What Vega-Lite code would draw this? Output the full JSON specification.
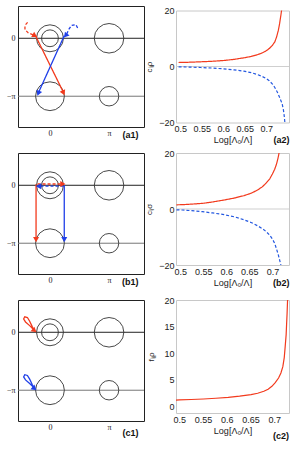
{
  "$schema": "https://vega.github.io/schema/vega-lite/v6.json",
  "padding": {"left": 5, "top": 5, "right": 5, "bottom": 5},
  "bounds": "flush",
  "center": true,
  "columns": 2,
  "spacing": {"row": 26, "column": 32},
  "resolve": {"scale": {"color": "independent", "strokeDash": "independent", "size": "independent", "angle": "independent"}},
  "config": {
    "font": "Liberation Sans",
    "axis": {"grid": false, "labelColor": "#222", "titleColor": "#222", "titleFontWeight": "normal"},
    "title": {"fontSize": 9, "fontWeight": "bold", "color": "#111", "font": "Liberation Sans"}
  },
  "datasets": {
    "hlines": [{"y": 0, "g": "zero"}, {"y": -3.1416, "g": "pi"}],
    "circles": [
      {"x": 0, "y": 0, "r": 0.72},
      {"x": 0, "y": 0, "r": 0.45},
      {"x": 3.1416, "y": 0, "r": 0.79},
      {"x": 0, "y": -3.1416, "r": 0.77},
      {"x": 3.1416, "y": -3.1416, "r": 0.52}
    ],
    "paths": [
      {"p": "a1", "id": "a1rd", "c": "r", "k": "d", "i": 1, "x": -1.19, "y": 0.86},
      {"p": "a1", "id": "a1rd", "c": "r", "k": "d", "i": 2, "x": -1.33, "y": 0.7},
      {"p": "a1", "id": "a1rd", "c": "r", "k": "d", "i": 3, "x": -1.33, "y": 0.47},
      {"p": "a1", "id": "a1rd", "c": "r", "k": "d", "i": 4, "x": -1.15, "y": 0.29},
      {"p": "a1", "id": "a1rd", "c": "r", "k": "d", "i": 5, "x": -0.9, "y": 0.19},
      {"p": "a1", "id": "a1rs", "c": "r", "k": "s", "i": 1, "x": -0.76, "y": 0.12},
      {"p": "a1", "id": "a1rs", "c": "r", "k": "s", "i": 2, "x": 0.7, "y": -2.9},
      {"p": "a1", "id": "a1bd", "c": "b", "k": "d", "i": 1, "x": 1.47, "y": 0.56},
      {"p": "a1", "id": "a1bd", "c": "b", "k": "d", "i": 2, "x": 1.38, "y": 0.74},
      {"p": "a1", "id": "a1bd", "c": "b", "k": "d", "i": 3, "x": 1.15, "y": 0.7},
      {"p": "a1", "id": "a1bd", "c": "b", "k": "d", "i": 4, "x": 0.99, "y": 0.47},
      {"p": "a1", "id": "a1bd", "c": "b", "k": "d", "i": 5, "x": 0.9, "y": 0.24},
      {"p": "a1", "id": "a1bs", "c": "b", "k": "s", "i": 1, "x": 0.76, "y": 0.14},
      {"p": "a1", "id": "a1bs", "c": "b", "k": "s", "i": 2, "x": -0.6, "y": -2.92},
      {"p": "b1", "id": "b1rd", "c": "r", "k": "d", "i": 1, "x": -0.66, "y": 0.07},
      {"p": "b1", "id": "b1rd", "c": "r", "k": "d", "i": 2, "x": 0.6, "y": 0.07},
      {"p": "b1", "id": "b1bd", "c": "b", "k": "d", "i": 1, "x": 0.72, "y": -0.05},
      {"p": "b1", "id": "b1bd", "c": "b", "k": "d", "i": 2, "x": -0.5, "y": -0.05},
      {"p": "b1", "id": "b1rs", "c": "r", "k": "s", "i": 1, "x": -0.74, "y": 0.05},
      {"p": "b1", "id": "b1rs", "c": "r", "k": "s", "i": 2, "x": -0.74, "y": -2.85},
      {"p": "b1", "id": "b1bs", "c": "b", "k": "s", "i": 1, "x": 0.76, "y": 0.0},
      {"p": "b1", "id": "b1bs", "c": "b", "k": "s", "i": 2, "x": 0.76, "y": -2.85},
      {"p": "c1", "id": "c1r", "c": "r", "k": "s", "i": 1, "x": -0.9, "y": 0.18},
      {"p": "c1", "id": "c1r", "c": "r", "k": "s", "i": 2, "x": -1.08, "y": 0.36},
      {"p": "c1", "id": "c1r", "c": "r", "k": "s", "i": 3, "x": -1.3, "y": 0.56},
      {"p": "c1", "id": "c1r", "c": "r", "k": "s", "i": 4, "x": -1.4, "y": 0.72},
      {"p": "c1", "id": "c1r", "c": "r", "k": "s", "i": 5, "x": -1.34, "y": 0.84},
      {"p": "c1", "id": "c1r", "c": "r", "k": "s", "i": 6, "x": -1.2, "y": 0.8},
      {"p": "c1", "id": "c1r", "c": "r", "k": "s", "i": 7, "x": -1.08, "y": 0.6},
      {"p": "c1", "id": "c1r", "c": "r", "k": "s", "i": 8, "x": -0.95, "y": 0.32},
      {"p": "c1", "id": "c1r", "c": "r", "k": "s", "i": 9, "x": -0.88, "y": 0.18},
      {"p": "c1", "id": "c1b", "c": "b", "k": "s", "i": 1, "x": -0.9, "y": -2.96},
      {"p": "c1", "id": "c1b", "c": "b", "k": "s", "i": 2, "x": -1.08, "y": -2.78},
      {"p": "c1", "id": "c1b", "c": "b", "k": "s", "i": 3, "x": -1.3, "y": -2.58},
      {"p": "c1", "id": "c1b", "c": "b", "k": "s", "i": 4, "x": -1.4, "y": -2.42},
      {"p": "c1", "id": "c1b", "c": "b", "k": "s", "i": 5, "x": -1.34, "y": -2.3},
      {"p": "c1", "id": "c1b", "c": "b", "k": "s", "i": 6, "x": -1.2, "y": -2.34},
      {"p": "c1", "id": "c1b", "c": "b", "k": "s", "i": 7, "x": -1.08, "y": -2.54},
      {"p": "c1", "id": "c1b", "c": "b", "k": "s", "i": 8, "x": -0.95, "y": -2.82},
      {"p": "c1", "id": "c1b", "c": "b", "k": "s", "i": 9, "x": -0.88, "y": -2.96}
    ],
    "heads": [
      {"p": "a1", "c": "r", "x": -0.84, "y": 0.17, "dir": 120},
      {"p": "a1", "c": "r", "x": 0.7, "y": -2.92, "dir": 155},
      {"p": "a1", "c": "b", "x": 0.86, "y": 0.18, "dir": 220},
      {"p": "a1", "c": "b", "x": -0.6, "y": -2.94, "dir": 203},
      {"p": "b1", "c": "r", "x": 0.64, "y": 0.07, "dir": 90},
      {"p": "b1", "c": "b", "x": -0.56, "y": -0.05, "dir": 270},
      {"p": "b1", "c": "r", "x": -0.74, "y": -2.9, "dir": 180},
      {"p": "b1", "c": "b", "x": 0.76, "y": -2.9, "dir": 180},
      {"p": "c1", "c": "r", "x": -0.86, "y": 0.12, "dir": 130},
      {"p": "c1", "c": "b", "x": -0.86, "y": -3.02, "dir": 130}
    ],
    "a2": [
      {"x": 0.496, "v": 1.43, "b": "plus"}, {"x": 0.52, "v": 1.52, "b": "plus"}, {"x": 0.547, "v": 1.67, "b": "plus"},
      {"x": 0.575, "v": 1.88, "b": "plus"}, {"x": 0.601, "v": 2.14, "b": "plus"}, {"x": 0.625, "v": 2.55, "b": "plus"},
      {"x": 0.648, "v": 3.1, "b": "plus"}, {"x": 0.665, "v": 3.6, "b": "plus"}, {"x": 0.679, "v": 4.2, "b": "plus"},
      {"x": 0.69, "v": 4.8, "b": "plus"}, {"x": 0.699, "v": 5.5, "b": "plus"}, {"x": 0.707, "v": 6.4, "b": "plus"},
      {"x": 0.714, "v": 7.5, "b": "plus"}, {"x": 0.72, "v": 8.8, "b": "plus"}, {"x": 0.724, "v": 10.5, "b": "plus"},
      {"x": 0.728, "v": 12.8, "b": "plus"}, {"x": 0.731, "v": 15.2, "b": "plus"}, {"x": 0.734, "v": 18.2, "b": "plus"},
      {"x": 0.737, "v": 21.5, "b": "plus"},
      {"x": 0.496, "v": -0.1, "b": "minus"}, {"x": 0.52, "v": -0.2, "b": "minus"}, {"x": 0.547, "v": -0.36, "b": "minus"},
      {"x": 0.575, "v": -0.56, "b": "minus"}, {"x": 0.601, "v": -0.83, "b": "minus"}, {"x": 0.625, "v": -1.2, "b": "minus"},
      {"x": 0.648, "v": -1.67, "b": "minus"}, {"x": 0.665, "v": -2.2, "b": "minus"}, {"x": 0.679, "v": -2.86, "b": "minus"},
      {"x": 0.69, "v": -3.5, "b": "minus"}, {"x": 0.699, "v": -4.2, "b": "minus"}, {"x": 0.707, "v": -5.1, "b": "minus"},
      {"x": 0.714, "v": -6.2, "b": "minus"}, {"x": 0.72, "v": -7.5, "b": "minus"}, {"x": 0.726, "v": -9.2, "b": "minus"},
      {"x": 0.731, "v": -11.0, "b": "minus"}, {"x": 0.737, "v": -13.3, "b": "minus"}, {"x": 0.74, "v": -15.5, "b": "minus"},
      {"x": 0.742, "v": -17.8, "b": "minus"}, {"x": 0.744, "v": -21, "b": "minus"}
    ],
    "b2": [
      {"x": 0.492, "v": 1.5, "b": "plus"}, {"x": 0.505, "v": 1.55, "b": "plus"}, {"x": 0.525, "v": 1.75, "b": "plus"},
      {"x": 0.548, "v": 2.0, "b": "plus"}, {"x": 0.57, "v": 2.5, "b": "plus"}, {"x": 0.595, "v": 3.2, "b": "plus"},
      {"x": 0.62, "v": 4.0, "b": "plus"}, {"x": 0.639, "v": 4.8, "b": "plus"}, {"x": 0.655, "v": 5.7, "b": "plus"},
      {"x": 0.668, "v": 6.8, "b": "plus"}, {"x": 0.678, "v": 7.9, "b": "plus"}, {"x": 0.686, "v": 9.2, "b": "plus"},
      {"x": 0.694, "v": 10.7, "b": "plus"}, {"x": 0.7, "v": 12.5, "b": "plus"}, {"x": 0.705, "v": 14.2, "b": "plus"},
      {"x": 0.709, "v": 16.1, "b": "plus"}, {"x": 0.712, "v": 18, "b": "plus"}, {"x": 0.715, "v": 20.5, "b": "plus"},
      {"x": 0.492, "v": -0.3, "b": "minus"}, {"x": 0.505, "v": -0.36, "b": "minus"}, {"x": 0.525, "v": -0.6, "b": "minus"},
      {"x": 0.548, "v": -0.95, "b": "minus"}, {"x": 0.57, "v": -1.4, "b": "minus"}, {"x": 0.595, "v": -2.0, "b": "minus"},
      {"x": 0.62, "v": -2.9, "b": "minus"}, {"x": 0.639, "v": -3.9, "b": "minus"}, {"x": 0.655, "v": -4.9, "b": "minus"},
      {"x": 0.668, "v": -6.0, "b": "minus"}, {"x": 0.678, "v": -7.0, "b": "minus"}, {"x": 0.686, "v": -8.0, "b": "minus"},
      {"x": 0.694, "v": -9.3, "b": "minus"}, {"x": 0.7, "v": -10.7, "b": "minus"}, {"x": 0.705, "v": -12.3, "b": "minus"},
      {"x": 0.709, "v": -14.3, "b": "minus"}, {"x": 0.713, "v": -16.5, "b": "minus"}, {"x": 0.716, "v": -18.4, "b": "minus"},
      {"x": 0.719, "v": -20.5, "b": "minus"}
    ],
    "c2": [
      {"x": 0.493, "v": 1.23, "b": "plus"}, {"x": 0.5, "v": 1.25, "b": "plus"}, {"x": 0.525, "v": 1.33, "b": "plus"},
      {"x": 0.551, "v": 1.43, "b": "plus"}, {"x": 0.577, "v": 1.57, "b": "plus"}, {"x": 0.603, "v": 1.74, "b": "plus"},
      {"x": 0.627, "v": 1.96, "b": "plus"}, {"x": 0.651, "v": 2.24, "b": "plus"}, {"x": 0.665, "v": 2.5, "b": "plus"},
      {"x": 0.678, "v": 2.87, "b": "plus"}, {"x": 0.687, "v": 3.25, "b": "plus"}, {"x": 0.695, "v": 3.8, "b": "plus"},
      {"x": 0.702, "v": 4.5, "b": "plus"}, {"x": 0.709, "v": 5.36, "b": "plus"}, {"x": 0.714, "v": 6.3, "b": "plus"},
      {"x": 0.718, "v": 7.5, "b": "plus"}, {"x": 0.721, "v": 9.2, "b": "plus"}, {"x": 0.723, "v": 11.3, "b": "plus"},
      {"x": 0.725, "v": 13.5, "b": "plus"}, {"x": 0.726, "v": 15.6, "b": "plus"}, {"x": 0.727, "v": 17.5, "b": "plus"},
      {"x": 0.728, "v": 20, "b": "plus"}, {"x": 0.7285, "v": 21.5, "b": "plus"}
    ]
  },
  "concat": [
    {
      "width": 126, "height": 121,
      "view": {"stroke": "#222", "strokeWidth": 1},
      "title": {"text": "(a1)", "orient": "bottom", "anchor": "end", "offset": -6, "dx": -6},
      "layer": [
        {"data": {"name": "hlines"}, "mark": {"type": "rule", "strokeWidth": 1},
         "encoding": {"y": {"field": "y", "type": "quantitative", "scale": {"domain": [-4.81, 1.75], "nice": false, "zero": false},
           "axis": {"values": [0, -3.1416], "labelExpr": "datum.value == 0 ? '0' : '−π'", "title": null, "ticks": false, "domain": false, "labelFont": "Liberation Serif", "labelFontSize": 8, "labelPadding": 3}},
           "color": {"field": "g", "type": "nominal", "scale": {"domain": ["r", "b", "zero", "pi"], "range": ["#f23a1d", "#1f3fe8", "#222", "#777"]}, "legend": null}}},
        {"data": {"name": "circles"}, "mark": {"type": "point", "shape": "circle", "filled": false, "color": "#333", "strokeWidth": 0.9, "opacity": 1},
         "encoding": {
           "x": {"field": "x", "type": "quantitative", "scale": {"domain": [-1.7, 5.0], "nice": false, "zero": false},
             "axis": {"values": [0, 3.1416], "labelExpr": "datum.value == 0 ? '0' : 'π'", "title": null, "ticks": false, "domain": false, "labelFont": "Liberation Serif", "labelFontSize": 8, "labelPadding": 2}},
           "y": {"field": "y", "type": "quantitative"},
           "size": {"field": "r", "type": "quantitative", "scale": {"type": "pow", "exponent": 2, "domain": [0, 1], "range": [0, 1399]}, "legend": null}}},
        {"data": {"name": "paths"}, "transform": [{"filter": "datum.p == 'a1'"}], "mark": {"type": "line", "strokeWidth": 1.3},
         "encoding": {"x": {"field": "x", "type": "quantitative"}, "y": {"field": "y", "type": "quantitative"},
           "detail": {"field": "id"}, "order": {"field": "i", "type": "quantitative"},
           "color": {"field": "c", "type": "nominal", "scale": {"domain": ["r", "b", "zero", "pi"], "range": ["#f23a1d", "#1f3fe8", "#222", "#777"]}, "legend": null},
           "strokeDash": {"field": "k", "type": "nominal", "scale": {"domain": ["s", "d"], "range": [[1, 0], [3, 2]]}, "legend": null}}},
        {"data": {"name": "heads"}, "transform": [{"filter": "datum.p == 'a1'"}], "mark": {"type": "point", "shape": "triangle", "filled": true, "size": 36, "opacity": 1},
         "encoding": {"x": {"field": "x", "type": "quantitative"}, "y": {"field": "y", "type": "quantitative"},
           "color": {"field": "c", "type": "nominal", "scale": {"domain": ["r", "b", "zero", "pi"], "range": ["#f23a1d", "#1f3fe8", "#222", "#777"]}, "legend": null},
           "angle": {"field": "dir", "type": "quantitative", "scale": null}}}
      ]
    },
    {
      "width": 113, "height": 112,
      "view": {"stroke": "#c8c8c8", "strokeWidth": 1},
      "title": {"text": "(a2)", "orient": "bottom", "anchor": "end", "offset": -9},
      "layer": [
        {"data": {"values": [{}]}, "mark": {"type": "rule", "color": "#cfcfcf", "strokeWidth": 1},
         "encoding": {"y": {"datum": 0, "type": "quantitative"}}},
        {"data": {"name": "a2"}, "mark": {"type": "line", "strokeWidth": 1.2, "clip": true},
         "encoding": {
           "x": {"field": "x", "type": "quantitative", "scale": {"domain": [0.49, 0.753], "nice": false, "zero": false},
             "axis": {"values": [0.5, 0.55, 0.6, 0.65, 0.7], "format": ".2~f", "title": "Log[Λ₀/Λ]", "ticks": false, "domain": false, "labelFontSize": 9, "titleFontSize": 9, "labelPadding": 2, "titlePadding": 2}},
           "y": {"field": "v", "type": "quantitative", "scale": {"domain": [-20, 20], "nice": false, "zero": false},
             "axis": {"values": [-20, -10, 0, 10, 20], "title": "cᵢⱼρ", "ticks": false, "domain": false, "labelFontSize": 9, "titleFontSize": 8, "labelPadding": 2, "titlePadding": 5}},
           "color": {"field": "b", "type": "nominal", "scale": {"domain": ["plus", "minus"], "range": ["#f23a1d", "#2458e0"]}, "legend": null},
           "strokeDash": {"field": "b", "type": "nominal", "scale": {"domain": ["plus", "minus"], "range": [[1, 0], [3, 2]]}, "legend": null}}}
      ]
    },
    {
      "width": 126, "height": 121,
      "view": {"stroke": "#222", "strokeWidth": 1},
      "title": {"text": "(b1)", "orient": "bottom", "anchor": "end", "offset": -6, "dx": -6},
      "layer": [
        {"data": {"name": "hlines"}, "mark": {"type": "rule", "strokeWidth": 1},
         "encoding": {"y": {"field": "y", "type": "quantitative", "scale": {"domain": [-4.81, 1.75], "nice": false, "zero": false},
           "axis": {"values": [0, -3.1416], "labelExpr": "datum.value == 0 ? '0' : '−π'", "title": null, "ticks": false, "domain": false, "labelFont": "Liberation Serif", "labelFontSize": 8, "labelPadding": 3}},
           "color": {"field": "g", "type": "nominal", "scale": {"domain": ["r", "b", "zero", "pi"], "range": ["#f23a1d", "#1f3fe8", "#222", "#777"]}, "legend": null}}},
        {"data": {"name": "circles"}, "mark": {"type": "point", "shape": "circle", "filled": false, "color": "#333", "strokeWidth": 0.9, "opacity": 1},
         "encoding": {
           "x": {"field": "x", "type": "quantitative", "scale": {"domain": [-1.7, 5.0], "nice": false, "zero": false},
             "axis": {"values": [0, 3.1416], "labelExpr": "datum.value == 0 ? '0' : 'π'", "title": null, "ticks": false, "domain": false, "labelFont": "Liberation Serif", "labelFontSize": 8, "labelPadding": 2}},
           "y": {"field": "y", "type": "quantitative"},
           "size": {"field": "r", "type": "quantitative", "scale": {"type": "pow", "exponent": 2, "domain": [0, 1], "range": [0, 1399]}, "legend": null}}},
        {"data": {"name": "paths"}, "transform": [{"filter": "datum.p == 'b1'"}], "mark": {"type": "line", "strokeWidth": 1.3},
         "encoding": {"x": {"field": "x", "type": "quantitative"}, "y": {"field": "y", "type": "quantitative"},
           "detail": {"field": "id"}, "order": {"field": "i", "type": "quantitative"},
           "color": {"field": "c", "type": "nominal", "scale": {"domain": ["r", "b", "zero", "pi"], "range": ["#f23a1d", "#1f3fe8", "#222", "#777"]}, "legend": null},
           "strokeDash": {"field": "k", "type": "nominal", "scale": {"domain": ["s", "d"], "range": [[1, 0], [3, 2]]}, "legend": null}}},
        {"data": {"name": "heads"}, "transform": [{"filter": "datum.p == 'b1'"}], "mark": {"type": "point", "shape": "triangle", "filled": true, "size": 36, "opacity": 1},
         "encoding": {"x": {"field": "x", "type": "quantitative"}, "y": {"field": "y", "type": "quantitative"},
           "color": {"field": "c", "type": "nominal", "scale": {"domain": ["r", "b", "zero", "pi"], "range": ["#f23a1d", "#1f3fe8", "#222", "#777"]}, "legend": null},
           "angle": {"field": "dir", "type": "quantitative", "scale": null}}}
      ]
    },
    {
      "width": 113, "height": 112,
      "view": {"stroke": "#c8c8c8", "strokeWidth": 1},
      "title": {"text": "(b2)", "orient": "bottom", "anchor": "end", "offset": -8},
      "layer": [
        {"data": {"values": [{}]}, "mark": {"type": "rule", "color": "#cfcfcf", "strokeWidth": 1},
         "encoding": {"y": {"datum": 0, "type": "quantitative"}}},
        {"data": {"name": "b2"}, "mark": {"type": "line", "strokeWidth": 1.2, "clip": true},
         "encoding": {
           "x": {"field": "x", "type": "quantitative", "scale": {"domain": [0.491, 0.736], "nice": false, "zero": false},
             "axis": {"values": [0.5, 0.55, 0.6, 0.65, 0.7], "format": ".2~f", "title": "Log[Λ₀/Λ]", "ticks": false, "domain": false, "labelFontSize": 9, "titleFontSize": 9, "labelPadding": 2, "titlePadding": 2}},
           "y": {"field": "v", "type": "quantitative", "scale": {"domain": [-20, 20], "nice": false, "zero": false},
             "axis": {"values": [-20, -10, 0, 10, 20], "title": "cᵢⱼσ", "ticks": false, "domain": false, "labelFontSize": 9, "titleFontSize": 8, "labelPadding": 2, "titlePadding": 5}},
           "color": {"field": "b", "type": "nominal", "scale": {"domain": ["plus", "minus"], "range": ["#f23a1d", "#2458e0"]}, "legend": null},
           "strokeDash": {"field": "b", "type": "nominal", "scale": {"domain": ["plus", "minus"], "range": [[1, 0], [3, 2]]}, "legend": null}}}
      ]
    },
    {
      "width": 126, "height": 121,
      "view": {"stroke": "#222", "strokeWidth": 1},
      "title": {"text": "(c1)", "orient": "bottom", "anchor": "end", "offset": -2, "dx": -6},
      "layer": [
        {"data": {"name": "hlines"}, "mark": {"type": "rule", "strokeWidth": 1},
         "encoding": {"y": {"field": "y", "type": "quantitative", "scale": {"domain": [-4.81, 1.75], "nice": false, "zero": false},
           "axis": {"values": [0, -3.1416], "labelExpr": "datum.value == 0 ? '0' : '−π'", "title": null, "ticks": false, "domain": false, "labelFont": "Liberation Serif", "labelFontSize": 8, "labelPadding": 3}},
           "color": {"field": "g", "type": "nominal", "scale": {"domain": ["r", "b", "zero", "pi"], "range": ["#f23a1d", "#1f3fe8", "#222", "#777"]}, "legend": null}}},
        {"data": {"name": "circles"}, "mark": {"type": "point", "shape": "circle", "filled": false, "color": "#333", "strokeWidth": 0.9, "opacity": 1},
         "encoding": {
           "x": {"field": "x", "type": "quantitative", "scale": {"domain": [-1.7, 5.0], "nice": false, "zero": false},
             "axis": {"values": [0, 3.1416], "labelExpr": "datum.value == 0 ? '0' : 'π'", "title": null, "ticks": false, "domain": false, "labelFont": "Liberation Serif", "labelFontSize": 8, "labelPadding": 2}},
           "y": {"field": "y", "type": "quantitative"},
           "size": {"field": "r", "type": "quantitative", "scale": {"type": "pow", "exponent": 2, "domain": [0, 1], "range": [0, 1399]}, "legend": null}}},
        {"data": {"name": "paths"}, "transform": [{"filter": "datum.p == 'c1'"}], "mark": {"type": "line", "strokeWidth": 1.3},
         "encoding": {"x": {"field": "x", "type": "quantitative"}, "y": {"field": "y", "type": "quantitative"},
           "detail": {"field": "id"}, "order": {"field": "i", "type": "quantitative"},
           "color": {"field": "c", "type": "nominal", "scale": {"domain": ["r", "b", "zero", "pi"], "range": ["#f23a1d", "#1f3fe8", "#222", "#777"]}, "legend": null}}},
        {"data": {"name": "heads"}, "transform": [{"filter": "datum.p == 'c1'"}], "mark": {"type": "point", "shape": "triangle", "filled": true, "size": 36, "opacity": 1},
         "encoding": {"x": {"field": "x", "type": "quantitative"}, "y": {"field": "y", "type": "quantitative"},
           "color": {"field": "c", "type": "nominal", "scale": {"domain": ["r", "b", "zero", "pi"], "range": ["#f23a1d", "#1f3fe8", "#222", "#777"]}, "legend": null},
           "angle": {"field": "dir", "type": "quantitative", "scale": null}}}
      ]
    },
    {
      "width": 113, "height": 113,
      "view": {"stroke": "#c8c8c8", "strokeWidth": 1},
      "title": {"text": "(c2)", "orient": "bottom", "anchor": "end", "offset": -3},
      "data": {"name": "c2"},
      "mark": {"type": "line", "strokeWidth": 1.2, "clip": true, "color": "#f23a1d"},
      "encoding": {
        "x": {"field": "x", "type": "quantitative", "scale": {"domain": [0.493, 0.731], "nice": false, "zero": false},
          "axis": {"values": [0.5, 0.55, 0.6, 0.65, 0.7], "format": ".2~f", "title": "Log[Λ₀/Λ]", "ticks": false, "domain": false, "labelFontSize": 9, "titleFontSize": 9, "labelPadding": 2, "titlePadding": 2}},
        "y": {"field": "v", "type": "quantitative", "scale": {"domain": [-1.2, 20], "nice": false, "zero": false},
          "axis": {"values": [0, 5, 10, 15, 20], "title": "fᵢⱼρ", "ticks": false, "domain": false, "labelFontSize": 9, "titleFontSize": 8, "labelPadding": 2, "titlePadding": 8}}
      }
    }
  ]
}
